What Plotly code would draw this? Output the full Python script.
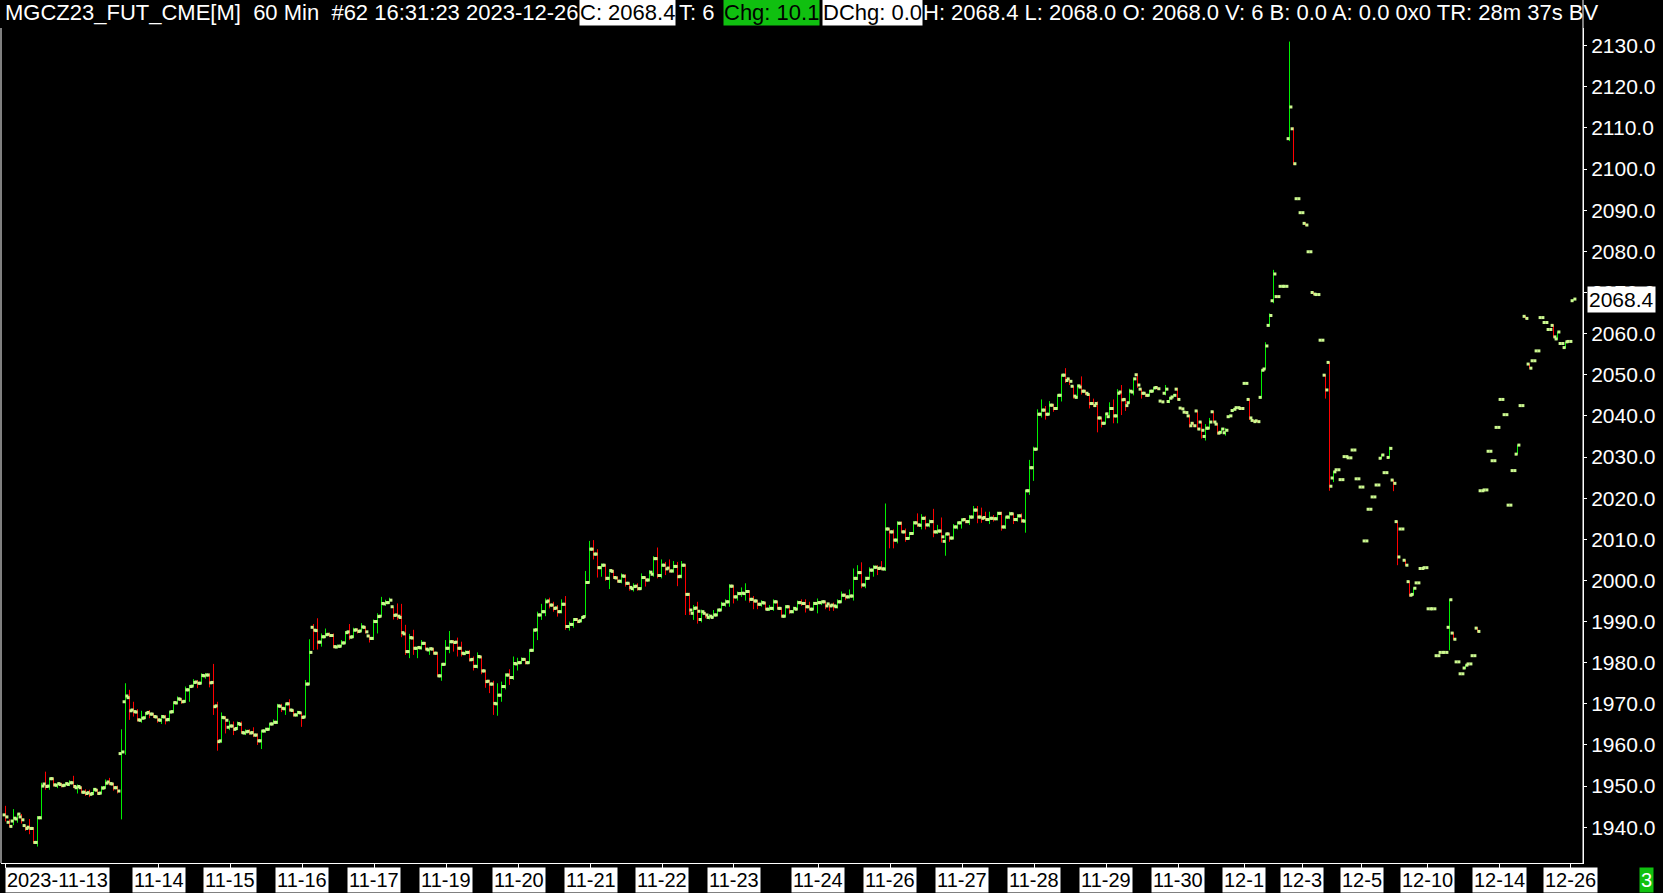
import plotly.graph_objects as go
import numpy as np

# ---------------- data (60 min bars, MGCZ23) ----------------
opens = [
 1943.0,1941.2,1941.5,1942.0,1942.5,1940.4,1940.0,1939.7,1936.3,1942.3,
 1950.5,1950.0,1951.8,1950.2,1950.4,1950.2,1950.4,1950.8,1949.6,1949.6,
 1948.5,1948.4,1948.2,1949.0,1948.3,1949.6,1951.0,1950.5,1949.6,1957.9,
 1970.5,1971.5,1968.5,1968.0,1966.0,1966.6,1967.9,1967.5,1966.8,1966.0,
 1966.8,1966.2,1968.1,1970.2,1971.1,1970.6,1973.4,1974.3,1975.3,1975.0,
 1976.8,1977.0,1975.2,1969.5,1961.0,1966.6,1964.3,1964.6,1964.0,1965.0,
 1962.9,1963.3,1963.0,1962.4,1961.0,1963.4,1963.8,1965.1,1965.5,1969.4,
 1968.8,1970.0,1968.4,1967.3,1967.8,1966.8,1974.8,1988.6,1987.8,1985.0,
 1986.3,1986.9,1986.6,1983.8,1984.0,1984.8,1987.5,1986.3,1988.0,1987.7,
 1988.6,1986.5,1985.9,1990.0,1991.3,1994.3,1994.6,1993.6,1991.6,1991.0,
 1987.0,1982.7,1986.0,1983.5,1983.6,1984.7,1983.1,1983.3,1982.3,1976.8,
 1979.6,1983.5,1985.1,1985.0,1983.5,1982.2,1982.5,1980.8,1979.1,1981.4,
 1978.0,1975.5,1974.8,1970.0,1972.1,1974.2,1977.0,1976.4,1979.7,1980.0,
 1980.8,1980.0,1983.0,1988.0,1991.6,1992.4,1995.0,1994.0,1993.3,1992.4,
 1994.2,1988.8,1989.3,1990.5,1990.2,1991.2,1999.5,2007.6,2006.4,2003.1,
 2003.7,2000.5,2002.2,2000.6,1999.8,2001.0,1999.3,1998.0,1998.6,1998.0,
 2000.7,2000.1,2001.5,2005.3,2001.2,2003.7,2003.0,2002.3,2003.4,2001.0,
 2003.7,1996.6,1992.0,1993.3,1990.5,1992.0,1991.0,1991.0,1991.6,1992.8,
 1994.2,1994.8,1998.6,1996.0,1996.8,1996.8,1997.3,1995.4,1995.0,1994.2,
 1994.5,1993.0,1993.2,1994.8,1993.2,1991.3,1993.6,1992.4,1993.0,1994.6,
 1994.4,1993.6,1993.0,1994.4,1994.6,1994.8,1994.3,1994.0,1993.6,1994.8,
 1996.4,1996.0,1996.2,2000.5,2001.9,1998.9,2000.5,2002.5,2003.2,2003.0,
 2002.8,2012.5,2011.8,2009.8,2013.9,2011.8,2010.2,2011.4,2014.0,2013.4,
 2015.1,2013.5,2014.3,2011.8,2012.0,2009.5,2011.3,2010.3,2013.0,2014.0,
 2014.8,2014.3,2015.4,2017.1,2015.4,2015.3,2014.8,2015.1,2015.0,2016.3,
 2013.0,2015.4,2016.2,2014.8,2015.7,2014.4,2021.8,2027.4,2031.9,2040.4,
 2041.4,2040.4,2042.6,2041.8,2045.0,2049.9,2049.0,2047.2,2044.5,2047.0,
 2046.0,2045.2,2043.0,2043.0,2039.5,2038.2,2039.8,2041.8,2040.0,2045.8,
 2044.0,2043.2,2045.8,2050.0,2046.5,2045.5,2045.0,2046.0,2046.9,2043.6,
 2045.5,2043.5,2044.6,2046.5,2041.9,2040.9,2040.0,2038.2,2041.2,2038.5,
 2035.0,2037.0,2041.0,2038.0,2036.0,2035.9,2039.8,2041.3,2042.0,2041.8,
 2047.9,2044.0,2038.9,2038.8,2044.5,2051.4,2062.0,2068.0,2069.0,2071.5,
 2071.5,2107.4,2109.8,2092.8,2089.4,2086.8,2079.9,2070.0,2069.5,2058.4,
 2049.9,2053.0,2024.9,2026.9,2024.5,2030.1,2029.8,2031.7,2024.7,2022.7,
 2009.6,2017.3,2020.3,2023.2,2029.7,2026.2,2029.9,2024.4,2014.3,2012.5,
 2004.9,1999.7,1996.6,1999.4,2002.9,2003.1,1993.1,1993.1,1981.7,1982.5,
 1982.5,1988.6,1987.2,1980.2,1977.3,1978.7,1979.7,1981.7,1988.4,2021.8,
 2022.0,2031.4,2029.1,2037.2,2044.0,2040.3,2018.3,2026.7,2030.7,2042.5,
 2064.2,2052.6,2053.4,2055.8,2063.9,2062.7,2061.0,2062.0,2058.7,2057.6,
 2056.6,2058.1,2068.0]
highs = [
 1945.2,1941.9,1944.4,1943.4,1943.2,1940.5,1942.0,1940.0,1942.7,1950.8,
 1953.5,1952.0,1952.0,1950.8,1950.8,1950.9,1951.4,1952.5,1950.4,1949.9,
 1949.2,1949.1,1949.5,1949.3,1950.0,1951.6,1952.0,1950.8,1950.1,1963.8,
 1975.0,1973.4,1970.5,1968.7,1968.3,1968.0,1968.5,1967.7,1966.9,1967.3,
 1967.3,1968.3,1970.5,1971.8,1971.3,1974.2,1974.6,1976.0,1975.8,1977.4,
 1977.5,1977.4,1979.7,1970.5,1967.9,1967.0,1965.9,1965.7,1965.7,1965.7,
 1963.8,1963.8,1964.3,1962.8,1963.6,1964.2,1965.3,1966.2,1970.0,1970.0,
 1970.1,1971.1,1968.5,1968.3,1968.0,1975.8,1985.7,1989.4,1990.8,1987.1,
 1988.3,1987.3,1987.1,1984.4,1985.5,1987.7,1989.4,1988.5,1988.3,1989.6,
 1988.8,1986.7,1990.5,1992.0,1996.0,1995.3,1995.8,1993.6,1994.4,1994.3,
 1989.2,1987.0,1988.0,1983.9,1985.5,1985.0,1983.7,1983.6,1982.5,1979.8,
 1985.5,1987.7,1985.5,1986.1,1985.1,1983.0,1983.1,1981.5,1982.5,1981.6,
 1978.2,1975.8,1975.6,1975.0,1975.4,1977.4,1978.4,1981.5,1981.2,1981.3,
 1981.0,1983.2,1988.3,1992.4,1994.3,1995.6,1995.8,1994.8,1994.0,1995.4,
 1996.2,1990.0,1990.8,1990.8,1991.3,2002.3,2009.6,2009.8,2007.6,2004.1,
 2003.9,2002.7,2002.6,2001.0,2001.7,2001.5,1999.4,1999.3,1999.3,2001.7,
 2000.9,2002.5,2005.9,2008.0,2005.1,2004.5,2005.1,2004.7,2004.5,2004.7,
 2003.9,1997.0,1994.0,1994.8,1992.9,1992.2,1991.8,1992.8,1993.1,1994.8,
 1995.4,1999.1,1998.8,1997.3,1998.3,1999.3,1997.5,1996.2,1995.2,1995.2,
 1994.8,1994.0,1995.4,1995.0,1993.4,1994.0,1993.8,1993.6,1995.1,1995.4,
 1995.4,1994.8,1994.8,1995.6,1995.1,1994.9,1994.4,1994.6,1995.4,1997.3,
 1996.8,1997.8,2002.9,2003.7,2004.4,2000.9,2003.2,2003.7,2003.7,2004.7,
 2018.7,2012.6,2012.4,2014.4,2014.3,2012.6,2011.8,2014.4,2016.3,2016.1,
 2015.7,2014.8,2017.4,2013.5,2015.3,2011.4,2011.4,2013.7,2014.3,2015.1,
 2015.1,2015.9,2018.1,2018.1,2017.7,2016.7,2016.7,2015.9,2016.7,2016.7,
 2015.5,2016.7,2016.4,2016.1,2016.3,2022.0,2029.3,2032.5,2041.6,2044.0,
 2042.4,2043.6,2042.9,2045.2,2050.1,2051.6,2049.1,2047.3,2047.6,2049.6,
 2046.3,2045.4,2044.2,2043.5,2039.6,2040.7,2043.3,2044.0,2046.5,2047.5,
 2044.2,2046.6,2049.3,2050.3,2046.6,2045.6,2046.3,2047.0,2047.1,2043.6,
 2047.5,2044.6,2045.3,2046.8,2042.0,2041.1,2040.2,2038.4,2041.3,2038.6,
 2038.0,2039.5,2041.2,2038.2,2037.1,2037.0,2040.3,2041.8,2042.2,2042.0,
 2048.1,2044.2,2039.0,2039.0,2051.3,2057.9,2064.9,2075.5,2069.2,2071.7,
 2071.7,2131.0,2110.1,2092.8,2089.4,2087.0,2079.9,2070.2,2069.5,2058.4,
 2050.1,2053.1,2026.6,2026.9,2024.5,2030.1,2029.8,2031.7,2024.7,2022.7,
 2009.6,2017.3,2020.3,2023.2,2030.7,2026.2,2032.5,2024.5,2014.5,2012.5,
 2005.0,1999.8,1998.3,1999.4,2002.9,2003.1,1993.1,1993.1,1981.7,1982.5,
 1982.5,1995.5,1987.4,1980.2,1977.3,1979.5,1979.7,1981.7,1988.6,2021.8,
 2022.0,2031.4,2029.1,2037.2,2044.0,2040.3,2018.3,2026.7,2033.0,2042.5,
 2064.3,2052.7,2053.4,2055.8,2063.9,2062.7,2061.0,2062.2,2060.5,2057.6,
 2058.0,2058.1,2068.4]
lows = [
 1941.4,1940.0,1940.5,1941.1,1940.9,1939.1,1938.3,1936.0,1935.3,1941.9,
 1949.1,1949.1,1949.9,1949.5,1949.7,1949.9,1950.0,1949.5,1948.2,1948.3,
 1947.6,1947.3,1947.8,1947.9,1948.0,1949.4,1950.2,1948.9,1948.2,1941.9,
 1957.6,1966.1,1966.9,1965.7,1965.4,1966.3,1966.5,1966.6,1965.4,1965.1,
 1965.0,1965.7,1967.7,1969.9,1970.0,1970.3,1970.5,1974.2,1973.8,1974.8,
 1976.1,1974.0,1967.3,1958.6,1960.5,1962.8,1963.6,1962.4,1963.6,1962.8,
 1962.4,1962.5,1961.9,1960.0,1959.0,1963.0,1963.6,1965.0,1965.1,1968.0,
 1967.3,1968.1,1966.9,1966.9,1964.4,1966.7,1974.6,1983.1,1983.2,1983.9,
 1986.0,1986.2,1983.5,1983.5,1983.9,1984.6,1985.5,1986.0,1987.1,1987.5,
 1987.1,1984.9,1985.5,1987.1,1991.2,1993.8,1994.3,1990.5,1990.4,1986.2,
 1981.9,1981.1,1981.9,1981.1,1983.2,1983.0,1981.9,1982.0,1976.6,1975.6,
 1979.4,1982.3,1982.7,1981.5,1981.5,1981.9,1980.3,1978.1,1978.6,1977.2,
 1973.9,1972.6,1967.3,1967.1,1970.5,1973.5,1974.6,1975.8,1978.1,1979.7,
 1979.6,1979.8,1982.7,1985.5,1990.4,1991.3,1993.2,1992.4,1991.2,1992.0,
 1988.0,1987.8,1988.5,1989.6,1989.8,1991.2,1999.3,2005.1,2000.7,2000.9,
 1999.9,1997.9,2000.4,1999.5,1999.3,1998.5,1997.5,1997.3,1997.5,1997.8,
 1998.5,1999.8,2000.9,2000.5,2000.5,2001.3,2001.9,2001.9,1998.6,2000.5,
 1991.6,1991.6,1990.4,1989.5,1989.8,1990.8,1990.5,1990.9,1991.3,1992.6,
 1993.6,1993.6,1994.4,1995.1,1996.0,1995.1,1994.6,1993.0,1993.0,1993.6,
 1992.8,1992.6,1992.6,1993.0,1991.0,1991.0,1991.8,1992.0,1992.8,1993.8,
 1992.2,1992.8,1992.8,1992.0,1994.0,1993.0,1992.6,1992.6,1993.2,1994.6,
 1995.2,1995.6,1995.1,2000.1,1998.1,1998.1,2000.3,2000.9,2001.3,2002.5,
 2002.3,2007.8,2007.8,2009.0,2011.6,2009.4,2010.0,2011.2,2013.0,2012.4,
 2012.4,2012.9,2010.5,2011.3,2009.2,2006.0,2009.4,2010.0,2012.4,2012.6,
 2013.9,2013.5,2015.1,2013.9,2014.0,2014.5,2013.7,2014.3,2014.6,2012.1,
 2012.5,2014.9,2013.7,2014.3,2014.0,2011.6,2020.8,2024.2,2031.7,2039.6,
 2039.1,2040.2,2041.0,2041.5,2043.5,2048.0,2047.5,2044.2,2044.2,2045.2,
 2045.0,2041.8,2042.2,2036.0,2037.2,2038.0,2039.5,2038.2,2038.2,2040.2,
 2041.2,2043.0,2045.0,2046.8,2044.2,2044.6,2044.8,2045.8,2046.3,2043.4,
 2045.0,2043.1,2044.5,2043.8,2041.5,2040.5,2037.2,2037.3,2036.6,2034.5,
 2034.0,2036.8,2038.4,2035.5,2035.7,2035.2,2039.5,2041.0,2041.8,2041.6,
 2047.7,2039.0,2038.5,2038.4,2044.2,2051.3,2061.7,2067.4,2068.8,2071.3,
 2071.3,2106.8,2101.0,2092.8,2089.4,2086.2,2079.9,2069.4,2069.5,2058.4,
 2044.2,2021.8,2023.9,2026.9,2024.5,2030.1,2029.8,2031.7,2024.7,2022.7,
 2009.6,2017.3,2020.3,2023.2,2029.5,2026.2,2029.7,2021.7,2003.7,2012.5,
 2003.5,1996.1,1996.4,1999.4,2002.9,2003.1,1993.1,1993.1,1981.7,1982.5,
 1982.5,1983.0,1985.5,1980.2,1977.3,1978.5,1979.7,1981.7,1987.4,2021.8,
 2022.0,2031.4,2029.1,2037.2,2044.0,2040.3,2018.3,2026.7,2030.6,2042.5,
 2063.6,2051.5,2053.4,2055.8,2063.9,2062.7,2061.0,2059.0,2058.5,2057.6,
 2056.4,2058.1,2068.0]
closes = [
 1942.5,1940.2,1942.2,1943.2,1941.8,1939.7,1939.7,1936.3,1942.3,1950.0,
 1949.9,1951.8,1950.3,1950.6,1950.1,1950.6,1950.8,1949.9,1949.9,1948.5,
 1948.2,1948.0,1949.2,1948.2,1949.5,1950.7,1950.6,1949.6,1948.8,1958.3,
 1971.9,1968.3,1968.1,1966.1,1966.5,1967.7,1967.5,1966.9,1966.1,1966.9,
 1966.1,1968.0,1970.3,1971.2,1970.5,1973.4,1974.2,1975.2,1975.0,1976.9,
 1977.0,1975.1,1969.3,1960.8,1966.7,1966.0,1964.6,1963.8,1965.2,1963.0,
 1963.2,1962.9,1962.4,1961.0,1963.4,1963.8,1965.1,1965.5,1969.5,1968.9,
 1970.0,1968.5,1967.3,1967.9,1966.7,1974.8,1982.5,1987.9,1985.0,1986.3,
 1986.8,1986.6,1983.9,1984.0,1984.8,1987.3,1986.2,1987.9,1987.6,1988.7,
 1987.5,1985.9,1990.0,1991.2,1994.4,1994.6,1995.2,1991.5,1991.3,1987.3,
 1982.7,1986.1,1983.5,1983.7,1984.7,1983.3,1983.4,1982.3,1976.8,1979.6,
 1983.5,1985.1,1984.9,1983.5,1982.3,1982.5,1980.7,1979.1,1981.5,1978.0,
 1975.4,1974.8,1970.1,1972.1,1974.2,1977.0,1976.4,1979.8,1980.0,1980.8,
 1980.0,1983.0,1987.9,1991.6,1992.4,1994.8,1994.0,1993.2,1992.4,1994.2,
 1988.8,1989.3,1990.5,1990.0,1991.0,1999.5,2007.6,2006.4,2003.1,2003.7,
 2000.5,2002.4,2000.7,1999.8,2001.1,1999.3,1998.3,1998.5,1998.0,2000.7,
 2000.1,2002.0,2005.3,2001.2,2003.7,2002.8,2002.3,2003.4,2000.9,2003.7,
 1996.6,1992.8,1993.2,1992.5,1992.4,1991.6,1991.3,1991.6,1992.8,1994.2,
 1994.8,1998.6,1996.0,1996.8,1996.9,1997.3,1995.4,1995.0,1994.2,1994.6,
 1993.0,1993.2,1994.8,1993.2,1991.3,1993.6,1992.4,1993.2,1994.6,1994.4,
 1993.6,1993.0,1994.4,1994.6,1994.8,1993.8,1993.8,1993.8,1994.8,1996.4,
 1996.0,1996.2,2000.5,2001.9,1998.9,2000.5,2002.5,2003.2,2002.9,2002.8,
 2012.5,2011.8,2009.8,2013.9,2011.8,2010.2,2011.4,2014.0,2013.5,2015.1,
 2013.5,2014.3,2011.8,2012.0,2010.6,2011.3,2010.3,2013.0,2014.0,2014.7,
 2014.3,2015.4,2017.1,2015.4,2015.1,2014.8,2015.1,2015.0,2016.3,2013.0,
 2015.4,2016.2,2014.8,2015.7,2014.5,2021.8,2027.4,2031.9,2040.4,2041.4,
 2040.4,2042.6,2041.8,2045.0,2049.9,2048.6,2048.4,2044.8,2047.3,2046.0,
 2045.5,2043.0,2042.5,2039.5,2038.2,2040.5,2041.8,2040.0,2045.5,2043.9,
 2042.5,2046.0,2049.0,2047.5,2045.5,2045.0,2046.0,2046.8,2046.6,2043.4,
 2046.5,2044.3,2045.0,2044.0,2041.7,2040.8,2037.6,2037.6,2036.8,2036.5,
 2037.0,2038.5,2038.5,2035.8,2036.8,2036.5,2040.0,2041.6,2042.0,2041.8,
 2047.9,2039.5,2038.6,2038.6,2051.1,2057.0,2064.4,2074.5,2069.0,2071.5,
 2071.5,2115.1,2101.3,2092.8,2089.4,2086.4,2079.9,2069.6,2069.5,2058.4,
 2046.3,2022.9,2026.4,2026.9,2024.5,2030.1,2029.8,2031.7,2024.7,2022.7,
 2009.6,2017.3,2020.3,2023.2,2030.5,2026.2,2032.1,2023.6,2005.7,2012.5,
 2003.7,1996.4,1998.1,1999.4,2002.9,2003.1,1993.1,1993.1,1981.7,1982.5,
 1982.5,1995.3,1985.7,1980.2,1977.3,1979.4,1979.7,1981.7,1987.6,2021.8,
 2022.0,2031.4,2029.1,2037.2,2044.0,2040.3,2018.3,2026.7,2032.9,2042.5,
 2063.7,2051.6,2053.4,2055.8,2063.9,2062.7,2061.0,2059.2,2060.4,2057.6,
 2058.0,2058.1,2068.4]

price_ticks = [1940, 1950, 1960, 1970, 1980, 1990, 2000, 2010, 2020, 2030,
               2040, 2050, 2060, 2070, 2080, 2090, 2100, 2110, 2120, 2130]
date_labels = ["2023-11-13", "11-14", "11-15", "11-16", "11-17", "11-19", "11-20",
               "11-21", "11-22", "11-23", "11-24", "11-26", "11-27", "11-28",
               "11-29", "11-30", "12-1", "12-3", "12-5", "12-10", "12-14", "12-26"]
date_label_bars = [0, 38.3, 56.2, 74.2, 92.2, 110.2, 128.3, 146.3, 164.2, 182.1,
                   203.2, 221.2, 239.2, 257.2, 275.2, 293.2, 309.7, 324.2, 339.1,
                   355.5, 373.4, 391.3]
last_price = 2068.4
header_main = "MGCZ23_FUT_CME[M]\u00a0\u00a060 Min\u00a0\u00a0#62 16:31:23 2023-12-26"
header_c = "C: 2068.4"
header_t = "T: 6"
header_chg = "Chg: 10.1"
header_dchg = "DChg: 0.0"
header_rest = "H: 2068.4 L: 2068.0 O: 2068.0 V: 6 B: 0.0 A: 0.0 0x0 TR: 28m 37s BV"

n = len(closes)
for arr in (opens, highs, lows):
    if len(arr) != n:
        raise ValueError("length mismatch %d vs %d" % (len(arr), n))
idx = np.arange(n)

# ---------------- layout constants (pixels) ----------------
W, H = 1663, 893
PL, PR, PT, PB = 1, 1583, 28, 863
FONT = "Liberation Sans, Arial, sans-serif"

fig = go.Figure()
fig.add_trace(go.Ohlc(
    x=idx, open=opens, high=highs, low=lows, close=closes,
    increasing=dict(line=dict(color="#00f000", width=1)),
    decreasing=dict(line=dict(color="#ff0000", width=1)),
    tickwidth=0, hoverinfo="skip", showlegend=False))
# open (left) and close (right) tick squares
fig.add_trace(go.Scatter(
    x=np.concatenate([idx - 0.35, idx + 0.35]),
    y=np.concatenate([np.array(opens), np.array(closes)]),
    mode="markers",
    marker=dict(symbol="square", size=3, color="#ccf890", line=dict(width=0)),
    hoverinfo="skip", showlegend=False))

annotations = []
# date labels
for lab, b in zip(date_labels, date_label_bars):
    first = lab.startswith("2023")
    annotations.append(dict(
        x=b, y=0, xref="x", yref="paper", text=lab, showarrow=False,
        xanchor="left" if first else "center", xshift=-1 if first else 0,
        yanchor="top", yshift=-4,
        bgcolor="white", borderpad=1,
        font=dict(family=FONT, size=20, color="black")))

# header texts (x in page pixels)
def hdr(text, px, bg=None, color="white"):
    d = dict(x=0, y=1, xref="paper", yref="paper", text=text, showarrow=False,
             xanchor="left", yanchor="middle", xshift=px - PL, yshift=16,
             font=dict(family=FONT, size=22, color=color), borderpad=0)
    if bg:
        d["bgcolor"] = bg
    return d

annotations += [
    hdr(header_main, 4),
    hdr(header_c, 579, bg="white", color="black"),
    hdr(header_t, 678),
    hdr(header_chg, 723, bg="#10c010", color="black"),
    hdr(header_dchg, 822, bg="white", color="black"),
    hdr(header_rest, 922),
]
# last price marker on the price scale
annotations.append(dict(
    x=1, y=last_price, xref="paper", yref="y", text="%.1f" % last_price,
    showarrow=False, xanchor="left", yanchor="middle", xshift=4,
    bgcolor="white", borderpad=1,
    font=dict(family=FONT, size=21, color="black")))
# small green box bottom right
annotations.append(dict(
    x=1, y=0, xref="paper", yref="paper", text="3", showarrow=False,
    xanchor="left", yanchor="top", xshift=1639 - PR, yshift=-4,
    bgcolor="#10c010", borderpad=1,
    font=dict(family=FONT, size=20, color="white")))

plot_h = PB - PT
shapes = [
    dict(type="line", xref="paper", yref="paper", x0=1, x1=1, y0=0,
         y1=1 + PT / plot_h, line=dict(color="white", width=1)),
    dict(type="line", xref="paper", yref="paper", x0=0, x1=0, y0=0, y1=1,
         line=dict(color="white", width=1)),
]

fig.update_layout(
    width=W, height=H,
    margin=dict(l=PL, r=W - PR, t=PT, b=H - PB, pad=0),
    paper_bgcolor="black", plot_bgcolor="black",
    showlegend=False,
    annotations=annotations, shapes=shapes,
    xaxis=dict(range=[-1.125, 394.375], showgrid=False, zeroline=False,
               showline=True, linecolor="white", linewidth=1,
               tickvals=date_label_bars, ticks="outside", ticklen=4,
               tickcolor="white", showticklabels=False,
               rangeslider=dict(visible=False), fixedrange=True),
    yaxis=dict(side="right", range=[1931.3, 2134.3], showgrid=False,
               zeroline=False, showline=True, linecolor="white", linewidth=1,
               tickvals=price_ticks, ticktext=["%.1f" % v for v in price_ticks],
               ticks="outside", ticklen=3, tickcolor="white",
               tickfont=dict(family=FONT, size=21, color="white"),
               fixedrange=True),
)

fig.write_html("out.html", config={"displayModeBar": False},
               post_script="document.body.style.margin='0';document.body.style.overflow='hidden';")
